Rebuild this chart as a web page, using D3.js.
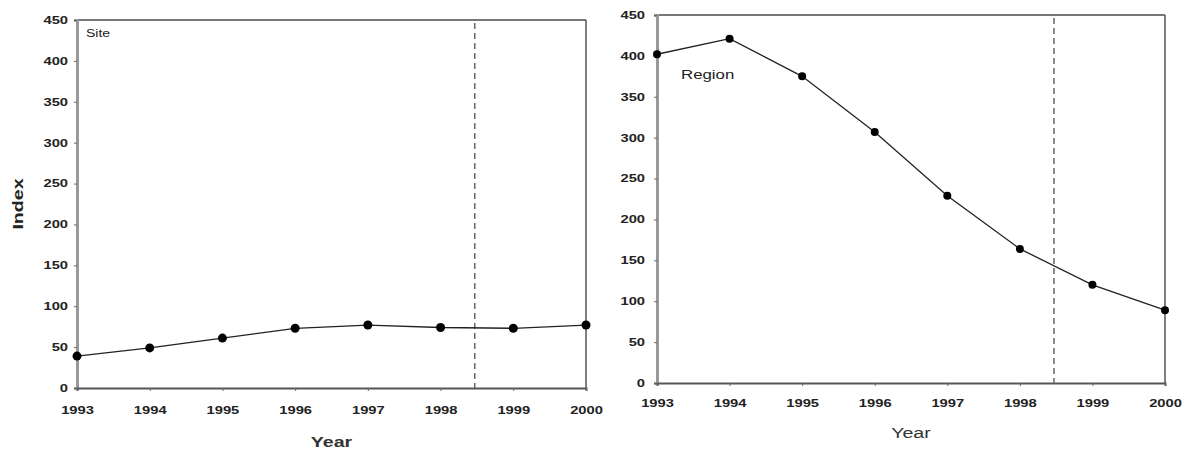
<!DOCTYPE html>
<html>
<head>
<meta charset="utf-8">
<script src="https://cdn.jsdelivr.net/npm/d3@7"></script>
<style>
  body { margin: 0; background: #fff; }
  text { font-family: "Liberation Sans", Arial, sans-serif; }
</style>
</head>
<body>
<div id="container"></div>
<script>
/* DATA */
const years = [1993, 1994, 1995, 1996, 1997, 1998, 1999, 2000];
const siteIndex = [39, 49, 61, 73, 77, 74, 73, 77];
const regionIndex = [402, 421, 375, 307, 229, 164, 120, 89];
const yTicks = [0, 50, 100, 150, 200, 250, 300, 350, 400, 450];
const breakYear = 1998.47;

const width = 1192, height = 454;
const stretch = 1.4; // the scanned fonts are wide

const svg = d3.select("#container")
  .append("svg")
  .attr("width", width)
  .attr("height", height);

// widen glyphs horizontally, keeping the anchor
function widen(sel) {
  sel.each(function() {
    const w = this.getComputedTextLength();
    d3.select(this)
      .attr("textLength", w * stretch)
      .attr("lengthAdjust", "spacingAndGlyphs");
  });
}

// one panel per series
const panels = [
  { values: siteIndex, label: "Site", x0: 77, x1: 586, y0: 388, y1: 20,
    labelX: 86, labelY: 33, labelSize: 10, yTitle: "Index", xTitleY: 447, xTitleBold: true,
    tickLabelY: 410, yLabelGap: 9, r: 4.5 },
  { values: regionIndex, label: "Region", x0: 657, x1: 1165, y0: 383, y1: 15,
    labelX: 681, labelY: 75, labelSize: 12, yTitle: null, xTitleY: 438, xTitleBold: false,
    tickLabelY: 403, yLabelGap: 12, r: 4 }
];

panels.forEach(p => {
  const xScale = d3.scaleLinear().domain([1993, 2000]).range([p.x0, p.x1]);
  const yScale = d3.scaleLinear().domain([0, 450]).range([p.y0, p.y1]);
  const g = svg.append("g");

  // frame: top and right
  g.append("line")
    .attr("x1", p.x0).attr("x2", p.x1).attr("y1", p.y1).attr("y2", p.y1)
    .attr("stroke", "#777").attr("stroke-width", 2);
  g.append("line")
    .attr("x1", p.x1).attr("x2", p.x1).attr("y1", p.y1).attr("y2", p.y0)
    .attr("stroke", "#555").attr("stroke-width", 1.5);

  // y axis
  const yAxis = g.append("g")
    .attr("transform", `translate(${p.x0},0)`)
    .call(d3.axisLeft(yScale).tickValues(yTicks).tickSize(3).tickPadding(p.yLabelGap - 3));
  yAxis.select(".domain").attr("stroke", "#999").attr("stroke-width", 3);
  yAxis.selectAll(".tick line").attr("stroke", "#666");
  yAxis.selectAll(".tick text")
    .attr("font-family", "Liberation Sans, Arial, sans-serif")
    .attr("font-size", 10.5).attr("font-weight", "bold").attr("fill", "#222")
    .call(widen);

  // x axis
  const xAxis = g.append("g")
    .attr("transform", `translate(0,${p.y0})`)
    .call(d3.axisBottom(xScale).tickValues(years).tickFormat(d3.format("d")).tickSize(3).tickPadding(0));
  xAxis.select(".domain").attr("stroke", "#555").attr("stroke-width", 2);
  xAxis.selectAll(".tick line").attr("stroke", "#666");
  xAxis.selectAll(".tick text")
    .attr("font-family", "Liberation Sans, Arial, sans-serif")
    .attr("y", p.tickLabelY - p.y0)
    .attr("dy", "0.35em")
    .attr("font-size", 10.5).attr("font-weight", "bold").attr("fill", "#222")
    .call(widen);

  // dashed break line
  g.append("line")
    .attr("x1", xScale(breakYear)).attr("x2", xScale(breakYear))
    .attr("y1", p.y1 + 3).attr("y2", p.y0)
    .attr("stroke", "#666").attr("stroke-width", 1.5)
    .attr("stroke-dasharray", "6,4");

  // series line
  const line = d3.line()
    .x((d, i) => xScale(years[i]))
    .y(d => yScale(d));
  g.append("path")
    .datum(p.values)
    .attr("d", line)
    .attr("fill", "none")
    .attr("stroke", "#222")
    .attr("stroke-width", 1.3);

  g.selectAll("circle")
    .data(p.values)
    .join("circle")
    .attr("cx", (d, i) => xScale(years[i]))
    .attr("cy", d => yScale(d))
    .attr("r", p.r)
    .attr("fill", "#000");

  // panel label
  g.append("text")
    .attr("x", p.labelX).attr("y", p.labelY)
    .attr("dy", "0.35em")
    .attr("font-size", p.labelSize)
    .attr("fill", "#222")
    .text(p.label)
    .call(widen);

  // x title
  g.append("text")
    .attr("x", (p.x0 + p.x1) / 2).attr("y", p.xTitleY)
    .attr("text-anchor", "middle")
    .attr("font-size", 14)
    .attr("font-weight", p.xTitleBold ? "bold" : "normal")
    .attr("fill", "#333")
    .text("Year")
    .call(widen);

  // y title
  if (p.yTitle) {
    g.append("text")
      .attr("transform", `translate(23,${(p.y0 + p.y1) / 2}) rotate(-90)`)
      .attr("text-anchor", "middle")
      .attr("font-size", 14)
      .attr("font-weight", "bold")
      .attr("fill", "#222")
      .text(p.yTitle)
      .call(widen);
  }
});
</script>
</body>
</html>
